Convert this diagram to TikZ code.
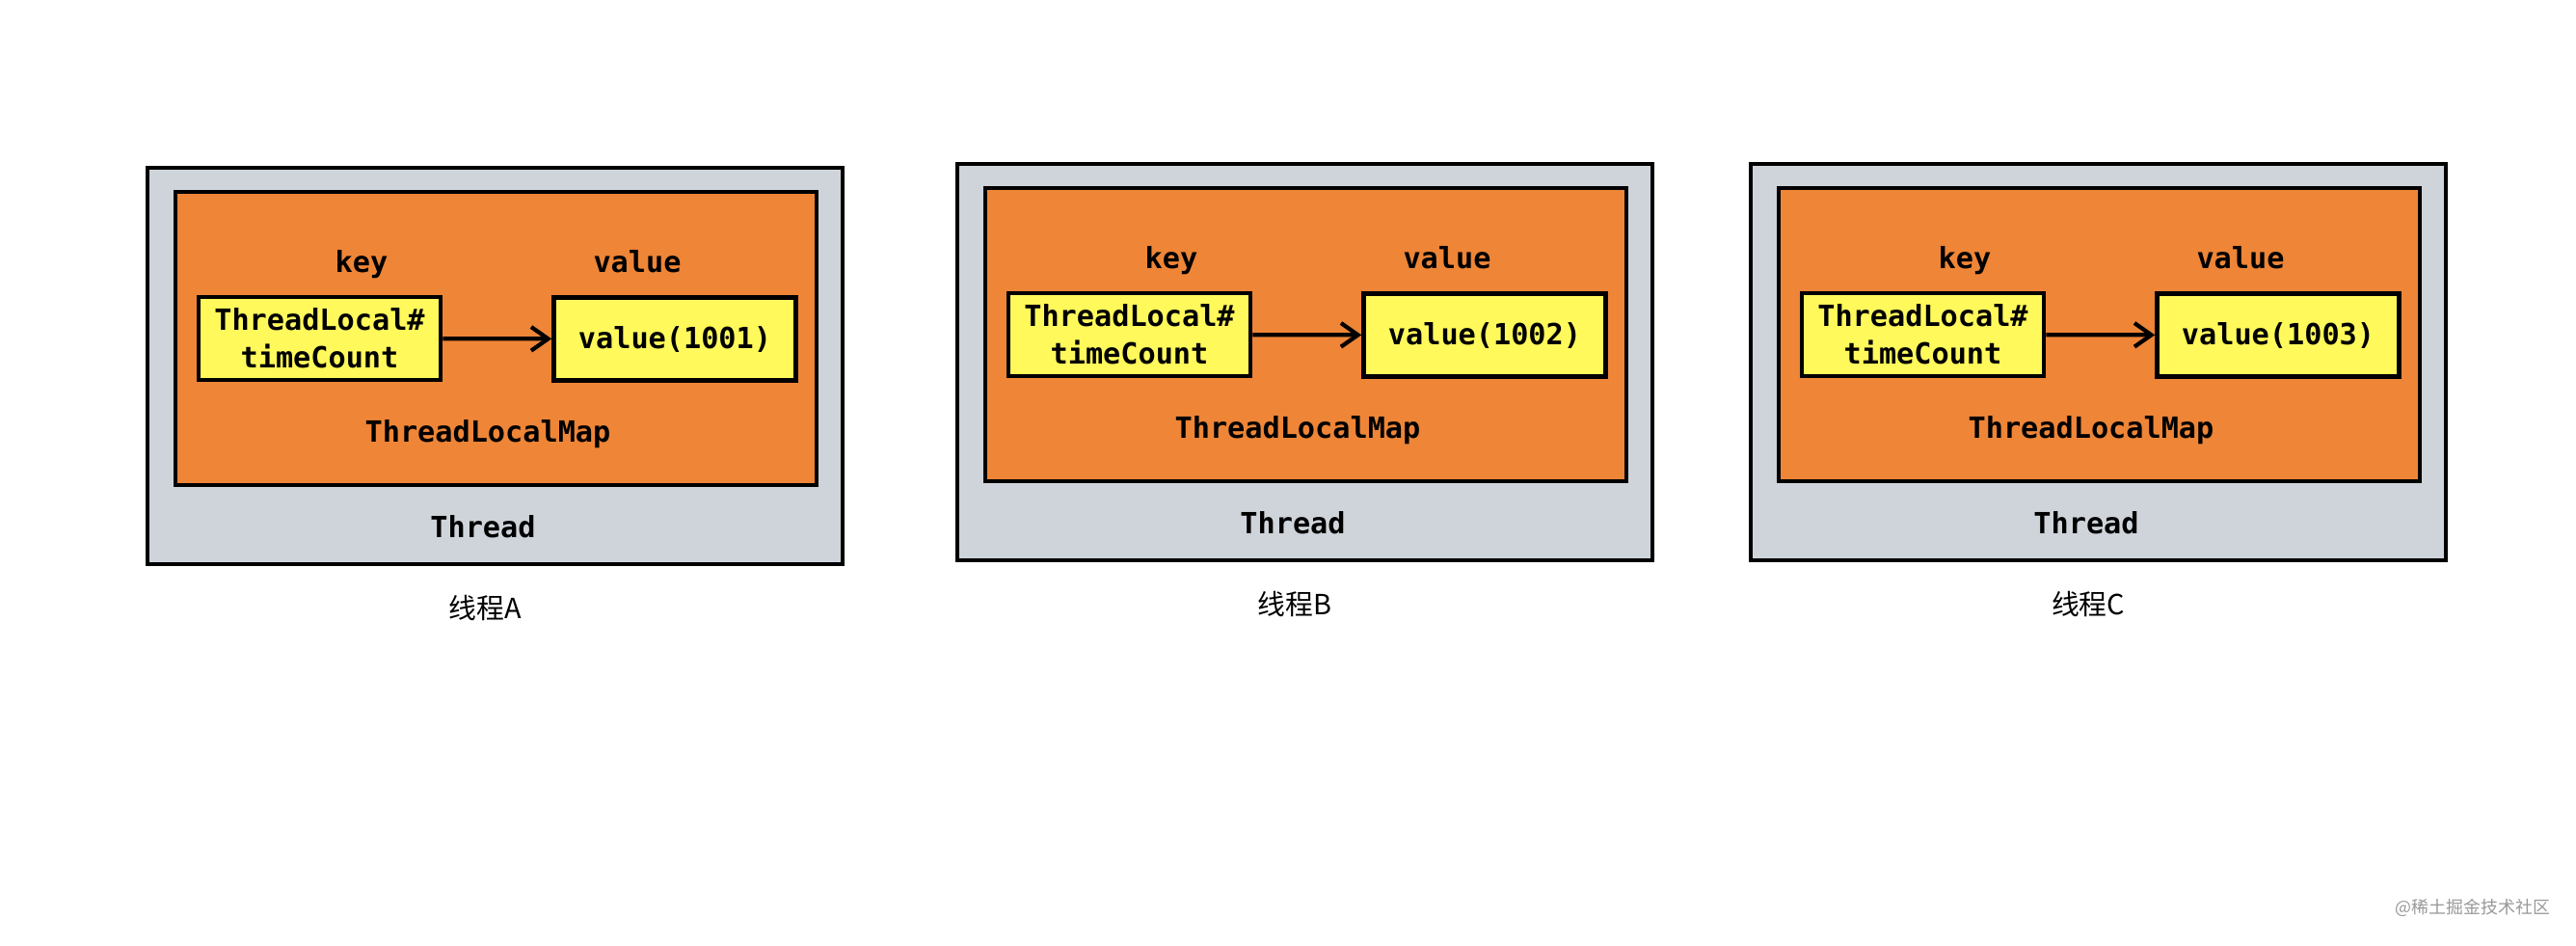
\documentclass[tikz,border=0pt]{standalone}
\usepackage{fontspec}
\setmonofont{DejaVu Sans Mono}
\newfontfamily\cjkfont{Noto Sans CJK SC}
\usetikzlibrary{arrows.meta, positioning}
\definecolor{threadgray}{HTML}{CED4DA}
\definecolor{maporange}{HTML}{EE8537}
\definecolor{entryyellow}{HTML}{FFF95B}

\begin{document}
\begin{tikzpicture}[
      thread/.style={draw, line width=1.3pt, fill=threadgray,
                     minimum width=7.21cm, minimum height=4.11cm},
      tlmap/.style={draw, line width=1.3pt, fill=maporange,
                    minimum width=6.65cm, minimum height=3.04cm},
      entry/.style={draw, line width=1.3pt, fill=entryyellow, align=center,
                    minimum width=2.51cm, minimum height=0.86cm, inner sep=1pt,
                    font=\ttfamily\bfseries\fontsize{8.6}{11}\selectfont},
      lbl/.style={inner sep=0pt, text height=0.76em, text depth=0.24em,
                  font=\ttfamily\bfseries\fontsize{8.6}{11}\selectfont},
      panelcap/.style={inner sep=0pt, font=\cjkfont\fontsize{8.2}{10}\selectfont},
      arr/.style={-{Straight Barb[length=5pt, width=7pt]}, line width=1.2pt}
    ]
    \useasboundingbox[fill=white] (0,0) rectangle (26.72,-9.80);

    \foreach \p/\dx/\dy/\n in {A/0/0/1001, B/8.40/0.04/1002, C/16.63/0.04/1003}{
      \begin{scope}[xshift=\dx cm, yshift=\dy cm]
        \node[thread] (thread\p) at (5.135,-3.795) {};
        \node[tlmap]  (map\p)    at (5.145,-3.51)  {};
        \node[entry]  (key\p)    at (3.315,-3.51)  {ThreadLocal\#\\timeCount};
        \node[entry]  (val\p)    at (7.00,-3.515)  {value(\n)};
        \node[lbl]    (keylbl\p) at (3.75,-2.73)   {key};
        \node[lbl]    (vallbl\p) at (6.61,-2.73)   {value};
        \node[lbl]    (maplbl\p) at (5.06,-4.49)   {ThreadLocalMap};
        \node[lbl]    (thrlbl\p) at (5.01,-5.48)   {Thread};
        \node[panelcap] (cap\p)  at (5.03,-6.30)   {线程\p};

        \draw[arr] (key\p) -- (val\p);
      \end{scope}
    }

    % watermark
    \node[inner sep=0pt, text=black!40, font=\cjkfont\fontsize{5.1}{6}\selectfont]
      (mark) at (25.65,-9.41) {@稀土掘金技术社区};
  \end{tikzpicture}
\end{document}
